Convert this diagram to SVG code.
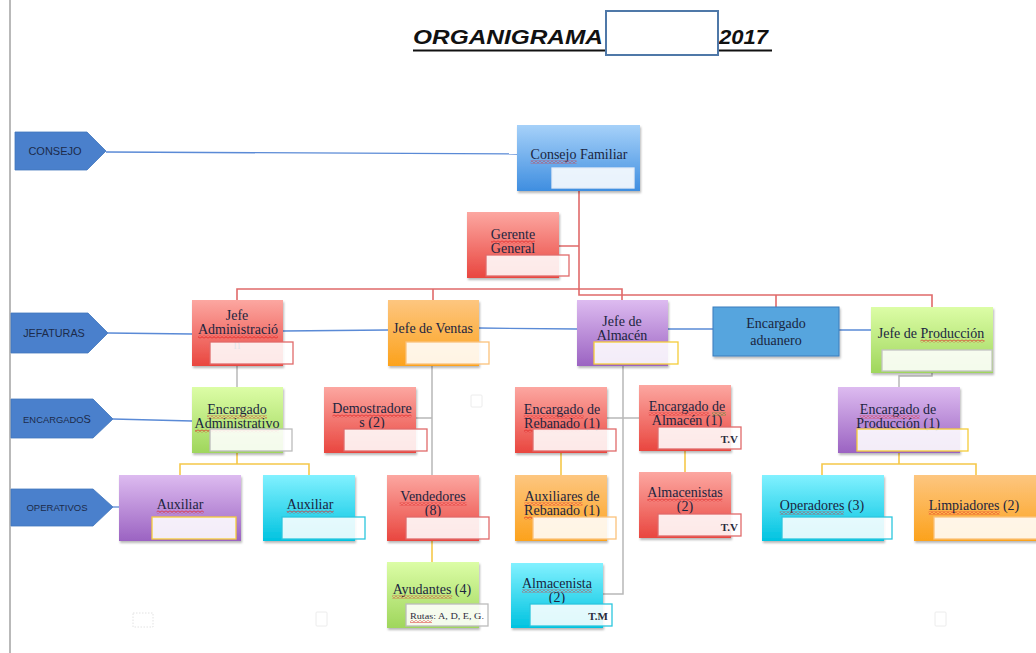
<svg xmlns="http://www.w3.org/2000/svg" width="1036" height="653" viewBox="0 0 1036 653">
<style>
.lbl{fill:#4a80cc;stroke:#4176bd;stroke-width:0.8}
.lt{font-family:"Liberation Sans",Arial,sans-serif;fill:#1c2b4a;text-anchor:middle}
.t{font-family:"Liberation Serif","Times New Roman",serif;font-size:14px;fill:#1b2540;text-anchor:middle}
.ib{fill:#ffffff;fill-opacity:0.88;stroke-width:1.3}
.tv{font-family:"Liberation Serif","Times New Roman",serif;font-size:11px;font-weight:bold;fill:#2a2a3a;text-anchor:end}
.blue{stroke:#5a8ad6;stroke-width:1.3;fill:none}
.red{stroke:#e06a6a;stroke-width:1.6;fill:none}
.gry{stroke:#b8b8b8;stroke-width:1.5;fill:none}
.yel{stroke:#f5c84a;stroke-width:1.6;fill:none}
.nd{filter:url(#sh)}
.sq{fill:url(#wave)}
.sqg{fill:url(#waveg)}
</style>
<defs>
<filter id="sh" x="-10%" y="-10%" width="125%" height="130%"><feDropShadow dx="1" dy="2" stdDeviation="1.2" flood-color="#000" flood-opacity="0.28"/></filter>
<pattern id="wave" patternUnits="userSpaceOnUse" width="4" height="3"><path d="M0 2.4 L2 0.6 L4 2.4" fill="none" stroke="#e02424" stroke-width="0.9"/></pattern>
<pattern id="waveg" patternUnits="userSpaceOnUse" width="4" height="3"><path d="M0 2.4 L2 0.6 L4 2.4" fill="none" stroke="#2a9a2a" stroke-width="0.9"/></pattern>
<linearGradient id="gRed" x1="0" y1="0" x2="0" y2="1"><stop offset="0" stop-color="#fca7a1"/><stop offset="1" stop-color="#e9463f"/></linearGradient>
<linearGradient id="gOra" x1="0" y1="0" x2="0" y2="1"><stop offset="0" stop-color="#fdc680"/><stop offset="1" stop-color="#fca21c"/></linearGradient>
<linearGradient id="gPur" x1="0" y1="0" x2="0" y2="1"><stop offset="0" stop-color="#ddbbf0"/><stop offset="1" stop-color="#9b63c2"/></linearGradient>
<linearGradient id="gGre" x1="0" y1="0" x2="0" y2="1"><stop offset="0" stop-color="#dcfda6"/><stop offset="1" stop-color="#9fd65c"/></linearGradient>
<linearGradient id="gBlu" x1="0" y1="0" x2="0" y2="1"><stop offset="0" stop-color="#a6d1f9"/><stop offset="1" stop-color="#3f8ee0"/></linearGradient>
<linearGradient id="gCya" x1="0" y1="0" x2="0" y2="1"><stop offset="0" stop-color="#82f1ff"/><stop offset="1" stop-color="#00c3e0"/></linearGradient>
</defs>
<rect width="1036" height="653" fill="#ffffff"/>
<line x1="10" y1="0" x2="10" y2="653" stroke="#8a8a8a" stroke-width="1.2"/>

<g id="title">
<text x="413" y="44" font-family="Liberation Sans,Arial,sans-serif" font-size="21" font-weight="bold" font-style="italic" fill="#111" textLength="190" lengthAdjust="spacingAndGlyphs">ORGANIGRAMA</text>
<text x="719" y="44" font-family="Liberation Sans,Arial,sans-serif" font-size="21" font-weight="bold" font-style="italic" fill="#111" textLength="49" lengthAdjust="spacingAndGlyphs">2017</text>
<line x1="413" y1="50.5" x2="772" y2="50.5" stroke="#111" stroke-width="2"/>
<rect x="606" y="11" width="112" height="44" fill="#ffffff" stroke="#4f78a8" stroke-width="2"/>
</g>

<g id="faint" fill="none" stroke="#ececec" stroke-width="1">
<rect x="471" y="395" width="11" height="12" rx="1"/>
<rect x="133" y="613" width="20" height="14" stroke-dasharray="1.5 1.5" stroke="#e2e2e2"/>
<rect x="316" y="612" width="11" height="14" rx="1"/>
<rect x="935" y="612" width="11" height="14" rx="1"/>
</g>

<g id="connectors">
<path class="blue" d="M106 152 L517 154"/>
<path class="blue" d="M108 333 L192 334 M283 331 L388 330 M479 328 L577 329 M668 329 L713 329 M839 330 L871 330"/>
<path class="blue" d="M113 419 L192 421"/>
<path class="blue" d="M113 507 L119 507"/>
<path class="red" d="M579 191 V295 H932 V307 M776 295 V307 M559 246 H579"/>
<path class="red" d="M237 300 V289 H622 V300 M433 289 V300"/>
<path class="gry" d="M237 366 V387"/>
<path class="gry" d="M432 366 V475 M416 418 H432"/>
<path class="gry" d="M623 366 V594 H603 M607 418 H639"/>
<path class="gry" d="M932 373 V376 H899 V387"/>
<path class="yel" d="M237 453 V464 M180 475 V464 H309 V475"/>
<path class="yel" d="M432 541 V562"/>
<path class="yel" d="M561 453 V475 M685 451 V472"/>
<path class="yel" d="M899 453 V464 M822 475 V464 H976 V475"/>
</g>

<g id="lbl-consejo"><polygon class="lbl" points="15,132 87,132 106,151 87,170 15,170"/><text class="lt" x="55" y="155" font-size="11">CONSEJO</text></g>
<g id="lbl-jefaturas"><polygon class="lbl" points="11,313 88,313 108,333 88,353 11,353"/><text class="lt" x="54" y="337" font-size="10.8">JEFATURAS</text></g>
<g id="lbl-encargados"><polygon class="lbl" points="11,399 93,399 113,419 93,438 11,438"/><text class="lt" x="57" y="423" font-size="9.4">ENCARGADO<tspan font-size="11">S</tspan></text></g>
<g id="lbl-operativos"><polygon class="lbl" points="11,489 93,489 113,507 93,526 11,526"/><text class="lt" x="57" y="510.5" font-size="9.5">OPERATIVOS</text></g>

<g id="consejo-familiar"><rect class="nd" x="517" y="125" width="123" height="66" fill="url(#gBlu)"/><text class="t" x="579" y="159">Consejo Familiar</text><rect class="sq" x="530.6" y="160.5" width="46" height="3"/><rect class="ib" x="552" y="168" width="82" height="20" stroke="#e4ecf6"/></g>

<g id="gerente-general"><rect class="nd" x="467" y="212" width="92" height="66" fill="url(#gRed)"/><text class="t" x="513" y="239">Gerente</text><rect class="sq" x="491" y="240.5" width="44" height="3"/><text class="t" x="513" y="253">General</text><rect class="ib" x="486" y="255" width="83" height="21" stroke="#e06a6a"/></g>

<g id="jefe-administracion"><rect class="nd" x="192" y="300" width="91" height="66" fill="url(#gRed)"/><text class="t" x="237" y="320">Jefe</text><text class="t" x="238" y="334">Administració</text><rect class="sq" x="198" y="335.5" width="80" height="3"/><text class="t" x="237" y="349">n</text><rect class="ib" x="210" y="342" width="83" height="22" stroke="#e06a6a"/></g>

<g id="jefe-ventas"><rect class="nd" x="388" y="300" width="91" height="66" fill="url(#gOra)"/><text class="t" x="433" y="333">Jefe de Ventas</text><rect class="ib" x="406" y="342" width="83" height="22" stroke="#fbc27c"/></g>

<g id="jefe-almacen"><rect class="nd" x="577" y="300" width="91" height="66" fill="url(#gPur)"/><text class="t" x="622" y="326">Jefe de</text><text class="t" x="622" y="340">Almacén</text><rect class="ib" x="594" y="342" width="84" height="22" stroke="#f5cc3a"/></g>

<g id="encargado-aduanero"><rect class="nd" x="713" y="307" width="126" height="49" fill="#56a5de" stroke="#3b7dbd" stroke-width="1"/><text class="t" x="776" y="328" font-size="16">Encargado</text><text class="t" x="776" y="345" font-size="16">aduanero</text></g>

<g id="jefe-produccion"><rect class="nd" x="871" y="307" width="122" height="66" fill="url(#gGre)"/><text class="t" x="931" y="338">Jefe de Producción</text><rect class="sq" x="920.5" y="339.5" width="64" height="3"/><rect class="ib" x="882" y="350" width="110" height="21" stroke="#c4c4c4"/></g>

<g id="encargado-administrativo"><rect class="nd" x="192" y="387" width="91" height="66" fill="url(#gGre)"/><text class="t" x="237" y="414">Encargado</text><rect class="sq" x="207" y="415.5" width="60" height="3"/><text class="t" x="237" y="428">Administrativo</text><rect class="sq" x="195" y="429.5" width="84" height="3"/><rect class="ib" x="210" y="429" width="82" height="22" stroke="#bcbcbc"/></g>

<g id="demostradores"><rect class="nd" x="324" y="387" width="92" height="66" fill="url(#gRed)"/><text class="t" x="372" y="413">Demostradore</text><rect class="sq" x="332.5" y="414.5" width="79" height="3"/><text class="t" x="372" y="427">s (2)</text><rect class="ib" x="344" y="429" width="83" height="22" stroke="#e06a6a"/></g>

<g id="encargado-rebanado"><rect class="nd" x="515" y="387" width="92" height="66" fill="url(#gRed)"/><text class="t" x="562" y="414">Encargado de</text><rect class="sq" x="523.7" y="415.5" width="60" height="3"/><text class="t" x="562" y="428">Rebanado (1)</text><rect class="sq" x="524.1" y="429.5" width="56" height="3"/><rect class="ib" x="533" y="429" width="83" height="22" stroke="#e06a6a"/></g>

<g id="encargado-almacen"><rect class="nd" x="639" y="385" width="92" height="66" fill="url(#gRed)"/><text class="t" x="687" y="411">Encargado de</text><rect class="sq" x="648.7" y="412.5" width="60" height="3"/><rect class="sqg" x="712" y="412.5" width="14" height="3"/><text class="t" x="687" y="425">Almacén (1)</text><rect class="ib" x="658" y="427" width="83" height="22" stroke="#e06a6a"/><text class="tv" x="738" y="443">T.V</text></g>

<g id="encargado-produccion"><rect class="nd" x="838" y="387" width="122" height="66" fill="url(#gPur)"/><text class="t" x="898" y="414">Encargado de</text><rect class="sq" x="859.7" y="415.5" width="60" height="3"/><text class="t" x="898" y="428">Producción (1)</text><rect class="ib" x="857" y="429" width="111" height="22" stroke="#f5cc3a"/></g>

<g id="auxiliar-1"><rect class="nd" x="119" y="475" width="122" height="66" fill="url(#gPur)"/><text class="t" x="180" y="509">Auxiliar</text><rect class="sq" x="156.7" y="510.5" width="47" height="3"/><rect class="ib" x="152" y="517" width="84" height="22" stroke="#f5cc3a"/></g>

<g id="auxiliar-2"><rect class="nd" x="263" y="475" width="92" height="66" fill="url(#gCya)"/><text class="t" x="310" y="509">Auxiliar</text><rect class="sq" x="286.7" y="510.5" width="47" height="3"/><rect class="ib" x="282" y="517" width="83" height="22" stroke="#2cc6de"/></g>

<g id="vendedores"><rect class="nd" x="387" y="475" width="92" height="66" fill="url(#gRed)"/><text class="t" x="433" y="501">Vendedores</text><rect class="sq" x="399.6" y="502.5" width="67" height="3"/><text class="t" x="433" y="515">(8)</text><rect class="ib" x="406" y="517" width="83" height="22" stroke="#e06a6a"/></g>

<g id="ayudantes"><rect class="nd" x="387" y="562" width="92" height="66" fill="url(#gGre)"/><text class="t" x="432" y="594">Ayudantes (4)</text><rect class="sq" x="392.2" y="595.5" width="60" height="3"/><rect class="ib" x="406" y="604" width="82" height="22" stroke="#bcbcbc"/><text x="447" y="619" font-family="Liberation Serif,serif" font-size="9" fill="#2a2a3a" text-anchor="middle" textLength="74" lengthAdjust="spacingAndGlyphs">Rutas: A, D, E, G.</text><rect class="sq" x="410" y="620" width="22" height="3"/></g>

<g id="auxiliares-rebanado"><rect class="nd" x="515" y="475" width="92" height="66" fill="url(#gOra)"/><text class="t" x="562" y="501">Auxiliares de</text><rect class="sq" x="524.5" y="502.5" width="58" height="3"/><text class="t" x="562" y="515">Rebanado (1)</text><rect class="sq" x="524.1" y="516.5" width="56" height="3"/><rect class="ib" x="533" y="517" width="83" height="22" stroke="#fbc27c"/></g>

<g id="almacenistas"><rect class="nd" x="639" y="472" width="92" height="66" fill="url(#gRed)"/><text class="t" x="685" y="497">Almacenistas</text><rect class="sq" x="647.3" y="498.5" width="75" height="3"/><text class="t" x="685" y="511">(2)</text><rect class="ib" x="658" y="514" width="83" height="22" stroke="#e06a6a"/><text class="tv" x="738" y="531">T.V</text></g>

<g id="almacenista"><rect class="nd" x="511" y="563" width="92" height="65" fill="url(#gCya)"/><text class="t" x="557" y="588">Almacenista</text><rect class="sq" x="522" y="589.5" width="70" height="3"/><text class="t" x="557" y="602">(2)</text><rect class="ib" x="530" y="604" width="82" height="22" stroke="#2cc6de"/><text class="tv" x="608" y="620" font-size="10">T.M</text></g>

<g id="operadores"><rect class="nd" x="762" y="475" width="122" height="66" fill="url(#gCya)"/><text class="t" x="822" y="510">Operadores (3)</text><rect class="sq" x="779.8" y="511.5" width="64" height="3"/><rect class="ib" x="782" y="517" width="110" height="22" stroke="#2cc6de"/></g>

<g id="limpiadores"><rect class="nd" x="914" y="475" width="124" height="66" fill="url(#gOra)"/><text class="t" x="974" y="510">Limpiadores (2)</text><rect class="sq" x="928.7" y="511.5" width="71" height="3"/><rect class="ib" x="934" y="517" width="104" height="22" stroke="#fbc27c"/></g>
</svg>
